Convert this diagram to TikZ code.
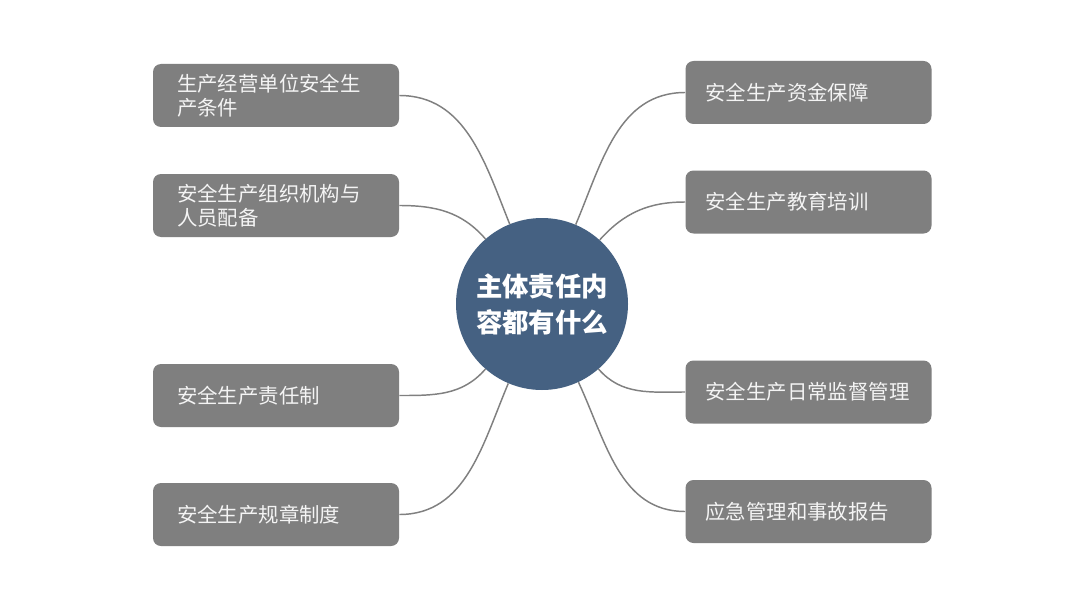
\documentclass[tikz,border=0pt]{standalone}
\usepackage{fontspec}
\newfontfamily\cjk{Noto Sans CJK SC}
\definecolor{boxgray}{HTML}{7F7F7F}
\definecolor{boxtext}{HTML}{F4F4F4}
\definecolor{hubblue}{HTML}{456182}
\definecolor{linegray}{HTML}{808080}
\begin{document}
\begin{tikzpicture}[x=0.75pt,y=0.75pt,
  itembox/.style={fill=boxgray, text=boxtext, rounded corners=6pt,
    minimum width=184.5pt, minimum height=47.25pt, inner ysep=2pt,
    align=left, font=\cjk\fontsize{15.3}{18}\selectfont},
  leftbox/.style={itembox, inner xsep=18pt, text width=148.5pt},
  rightbox/.style={itembox, inner xsep=15pt, text width=154.5pt},
  hub/.style={circle, fill=hubblue, text=white, minimum size=129pt, inner sep=0pt,
    align=center, font=\cjk\bfseries\fontsize{19.8}{27}\selectfont},
  conn/.style={draw=linegray, line width=1.1pt}]
\useasboundingbox[fill=white] (0,0) rectangle (1080,608);
\node[hub] (C) at (542,304) {主体责任内\\容都有什么};
\node[leftbox] (L1) at (276,512.5) {生产经营单位安全生\\产条件};
\node[leftbox] (L2) at (276,402.5) {安全生产组织机构与\\人员配备};
\node[leftbox] (L3) at (276,212.5) {安全生产责任制};
\node[leftbox] (L4) at (276,93.5) {安全生产规章制度};
\node[rightbox] (R1) at (808.5,515.5) {安全生产资金保障};
\node[rightbox] (R2) at (808.5,406) {安全生产教育培训};
\node[rightbox] (R3) at (808.5,216) {安全生产日常监督管理};
\node[rightbox] (R4) at (808.5,96.5) {应急管理和事故报告};
\draw[conn] (L1.east) to[out=0,in=112] (C.112);
\draw[conn] (L2.east) to[out=0,in=131] (C.131);
\draw[conn] (L3.east) to[out=0,in=229] (C.229);
\draw[conn] (L4.east) to[out=0,in=247] (C.247);
\draw[conn] (R1.west) to[out=180,in=67] (C.67);
\draw[conn] (R2.west) to[out=180,in=48] (C.48);
\draw[conn] (R3.west) to[out=180,in=-49] (C.-49);
\draw[conn] (R4.west) to[out=180,in=-65] (C.-65);
\end{tikzpicture}
\end{document}
